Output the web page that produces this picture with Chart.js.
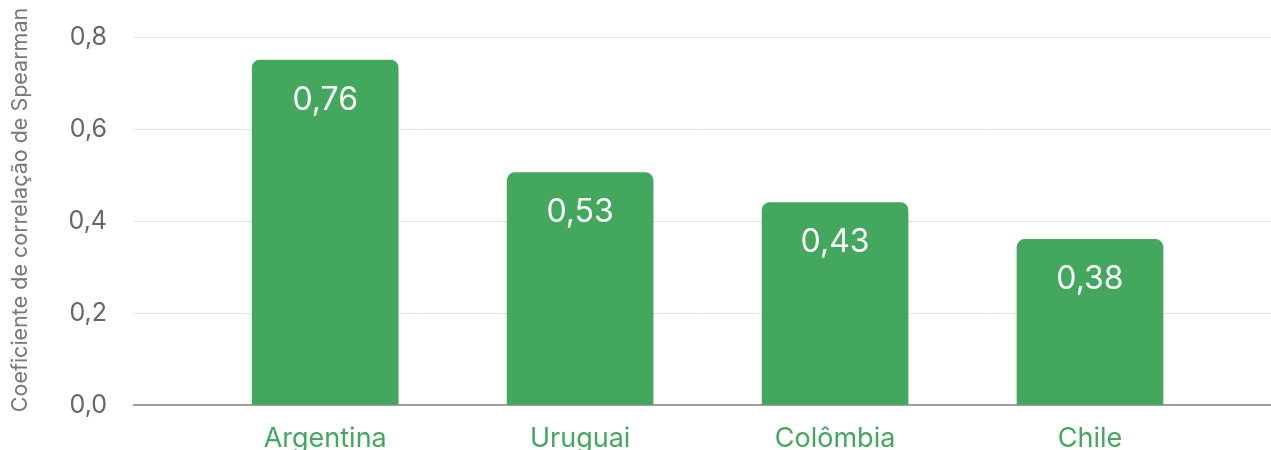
<!DOCTYPE html>
<html>
<head>
<meta charset="utf-8">
<script src="https://cdn.jsdelivr.net/npm/chart.js@4"></script>
<style>
  html, body { margin: 0; padding: 0; background: #fff; overflow: hidden; }
  #wrap { width: 1271px; height: 450px; position: relative; }
</style>
</head>
<body>
<div id="wrap"><canvas id="c" width="1271" height="450"></canvas></div>
<script>
// ---- data ----
const categories = ['Argentina', 'Uruguai', 'Colômbia', 'Chile'];
const barValues = [0.75, 0.505, 0.44, 0.36];          // bar heights
const valueLabels = ['0,76', '0,53', '0,43', '0,38'];  // text printed on the bars
const yTickLabels = ['0,0', '0,2', '0,4', '0,6', '0,8'];
const yTitle = 'Coeficiente de correlação de Spearman';

const GREEN = '#43a75e';
const FONT = 'Inter, "Noto Sans", sans-serif';

const valueLabelPlugin = {
  id: 'valueLabels',
  afterDatasetsDraw(chart) {
    const ctx = chart.ctx;
    const meta = chart.getDatasetMeta(0);
    ctx.save();
    ctx.fillStyle = '#ffffff';
    ctx.font = '32px ' + FONT;
    ctx.textAlign = 'center';
    ctx.textBaseline = 'middle';
    meta.data.forEach((bar, i) => {
      ctx.fillText(valueLabels[i], bar.x, bar.y + 40);
    });
    ctx.restore();
  }
};

const yTitlePlugin = {
  id: 'yTitle',
  afterDraw(chart) {
    const ctx = chart.ctx;
    ctx.save();
    ctx.translate(21, 210);
    ctx.rotate(-Math.PI / 2);
    ctx.fillStyle = '#777777';
    ctx.font = '21.5px ' + FONT;
    ctx.textAlign = 'center';
    ctx.textBaseline = 'middle';
    ctx.fillText(yTitle, 0, 0);
    ctx.restore();
  }
};

new Chart(document.getElementById('c'), {
  type: 'bar',
  data: {
    datasets: [{
      data: categories.map((c, i) => ({ x: i, y: barValues[i] })),
      backgroundColor: GREEN,
      borderRadius: 8,
      borderSkipped: 'start',
      barThickness: 146
    }]
  },
  options: {
    responsive: false,
    animation: false,
    devicePixelRatio: 1,
    layout: { padding: { top: 37, right: 0, left: 0, bottom: 0 } },
    plugins: {
      legend: { display: false },
      tooltip: { enabled: false }
    },
    scales: {
      x: {
        type: 'linear',
        offset: false,
        min: -0.75,
        max: 3.71,
        grid: { display: false, drawTicks: false },
        border: { display: true, color: '#9e9e9e', width: 2 },
        ticks: {
          stepSize: 1,
          includeBounds: false,
          autoSkip: false,
          maxRotation: 0,
          padding: 18,
          color: GREEN,
          font: { family: FONT, size: 27 },
          callback: (v) => (Number.isInteger(v) && categories[v] !== undefined) ? categories[v] : ''
        },
        afterFit: (s) => { s.height = 45; s.paddingLeft = 0; s.paddingRight = 0; }
      },
      y: {
        min: 0,
        max: 0.8,
        grid: { color: '#e2e2e2', lineWidth: 1, drawTicks: false },
        border: { display: false },
        ticks: {
          stepSize: 0.2,
          padding: 27,
          color: '#666666',
          font: { family: FONT, size: 25 },
          callback: (v, i) => yTickLabels[i]
        },
        afterFit: (s) => { s.width = 134; s.paddingTop = 0; s.paddingBottom = 0; }
      }
    }
  },
  plugins: [valueLabelPlugin, yTitlePlugin]
});
</script>
</body>
</html>
